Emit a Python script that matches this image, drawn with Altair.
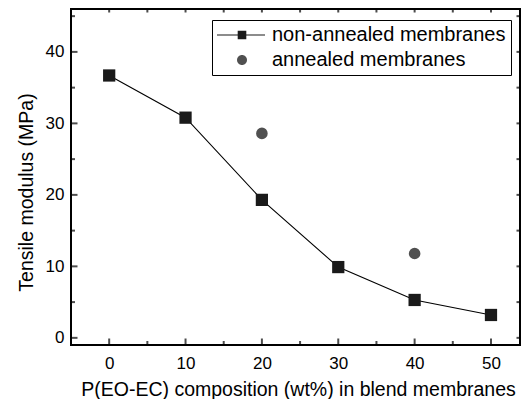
import altair as alt
import pandas as pd

# ---- data ----
comp_non = [0, 10, 20, 30, 40, 50]
mod_non = [36.7, 30.8, 19.3, 9.9, 5.3, 3.2]
comp_ann = [20, 40]
mod_ann = [28.6, 11.8]
series_names = ["non-annealed membranes", "annealed membranes"]

x_tick_values = [0, 10, 20, 30, 40, 50]
x_minor_values = [5, 15, 25, 35, 45]
x_all_ticks = [0, 5, 10, 15, 20, 25, 30, 35, 40, 45, 50]
y_tick_values = [0, 10, 20, 30, 40]
y_minor_values = [5, 15, 25, 35, 45]
y_all_ticks = [0, 5, 10, 15, 20, 25, 30, 35, 40, 45]

df_non = pd.DataFrame({"x": comp_non, "y": mod_non, "series": series_names[0]})
df_ann = pd.DataFrame({"x": comp_ann, "y": mod_ann, "series": series_names[1]})
df_all = pd.concat([df_non, df_ann], ignore_index=True)

FONT = "Liberation Sans"
X_MIN, X_MAX = -5, 53.8
Y_MIN, Y_MAX = -1, 46

xscale = alt.Scale(domain=[X_MIN, X_MAX], nice=False, zero=False)
yscale = alt.Scale(domain=[Y_MIN, Y_MAX], nice=False, zero=False)

xaxis = alt.Axis(
    values=x_tick_values, title="P(EO-EC) composition (wt%) in blend membranes",
    ticks=False, tickSize=0, domain=False, grid=False,
    labelFontSize=17, labelPadding=23, labelBaseline="alphabetic",
    labelFont=FONT, labelColor="black",
    titleFontSize=19.5, titleFontWeight="normal", titleFont=FONT, titleColor="black",
    titleX=227, titleY=50, titleBaseline="alphabetic",
)
yaxis = alt.Axis(
    values=y_tick_values, title="Tensile modulus (MPa)",
    ticks=False, tickSize=0, domain=False, grid=False,
    labelFontSize=17, labelPadding=7, labelFont=FONT, labelColor="black",
    titleFontSize=19.5, titleFontWeight="normal", titleFont=FONT, titleColor="black",
    titleX=-39, titleY=183, titleBaseline="alphabetic",
)


def X(field="x"):
    return alt.X(f"{field}:Q", scale=xscale, axis=xaxis)


def Y(field="y"):
    return alt.Y(f"{field}:Q", scale=yscale, axis=yaxis)


def XD(v):
    return alt.XDatum(v, type="quantitative", scale=xscale, axis=xaxis)


def YD(v):
    return alt.YDatum(v, type="quantitative", scale=yscale, axis=yaxis)


line = alt.Chart(df_non).mark_line(color="black", strokeWidth=1.1).encode(x=X(), y=Y())
squares = alt.Chart(df_non).mark_point(
    shape="square", filled=True, size=150, color="#1a1a1a", opacity=1
).encode(x=X(), y=Y())
circles = alt.Chart(df_ann).mark_point(
    shape="circle", filled=True, size=135, color="#505050", opacity=1
).encode(x=X(), y=Y())

# legend symbols: line with square, and circle (custom paths)
P_LINE_SQ = "M-1,-0.06H3.8V0.06H-1Z M1.07,-0.43H1.93V0.43H1.07Z"
P_CIRC = "M2,0A0.5,0.5,0,1,1,1,0A0.5,0.5,0,1,1,2,0Z"

leg = alt.Legend(
    title=None, orient="none", legendX=141, legendY=11, direction="vertical",
    padding=5, rowPadding=5, strokeColor="black", fillColor="white",
    symbolSize=400, symbolStrokeWidth=0, symbolOpacity=1,
    labelOffset=35, labelFontSize=20, labelFont=FONT, labelColor="black",
    labelLimit=600, labelExpr="datum.label + ' '",
)

legend_layer = alt.Chart(df_all).transform_filter("datum.x < -100").mark_point(
    filled=True, size=400, opacity=1
).encode(
    x=X(), y=Y(),
    shape=alt.Shape("series:N", scale=alt.Scale(domain=series_names, range=[P_LINE_SQ, P_CIRC]), legend=leg),
    color=alt.Color("series:N", scale=alt.Scale(domain=series_names, range=["#1a1a1a", "#505050"]), legend=leg),
)


def vticks(values, at, size):
    df = pd.DataFrame({"x": values})
    return alt.Chart(df).mark_tick(
        orient="vertical", size=size, thickness=2, color="black", clip=True
    ).encode(x=X(), y=YD(at))


def hticks(values, at, size):
    df = pd.DataFrame({"y": values})
    return alt.Chart(df).mark_tick(
        orient="horizontal", size=size, thickness=2, color="black", clip=True
    ).encode(y=Y(), x=XD(at))


layers = [
    vticks(x_tick_values, Y_MIN, 13),
    vticks(x_minor_values, Y_MIN, 8),
    vticks(x_all_ticks, Y_MAX, 7),
    hticks(y_tick_values, X_MIN, 13),
    hticks(y_minor_values, X_MIN, 8),
    hticks(y_all_ticks, X_MAX, 7),
    line, squares, circles, legend_layer,
]

chart = alt.layer(*layers).properties(
    width=449, height=336,
    autosize=alt.AutoSizeParams(type="none"),
    padding={"left": 63, "top": 1, "right": 1, "bottom": 54},
).configure_view(stroke="black", strokeWidth=2)

chart.save("out.html", embed_options={"renderer": "svg", "actions": False})
